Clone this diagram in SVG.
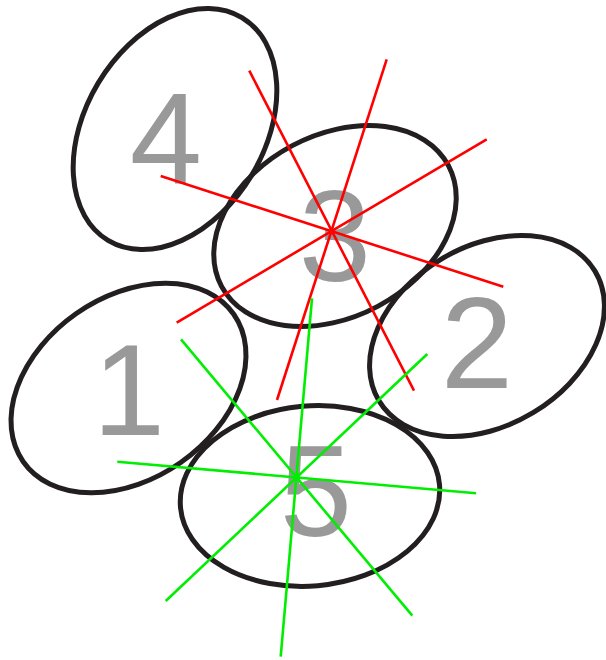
<svg xmlns="http://www.w3.org/2000/svg" width="606" height="660" viewBox="0 0 606 660">
<style>
.el{fill:none;stroke:#231f20;stroke-width:5}
.num{font-family:"Liberation Sans",Arial,sans-serif;font-size:130px;fill:#999999;text-anchor:middle}
.red{stroke:#ff0000;stroke-width:2.6;fill:none}
.grn{stroke:#00ee00;stroke-width:2.6;fill:none}
</style>
<rect width="606" height="660" fill="#ffffff"/>
<g id="node4">
<ellipse class="el" cx="175" cy="129" rx="130" ry="89.5" transform="rotate(-59 175 129)"/>
<text class="num" x="166" y="183">4</text>
</g>
<g id="node3">
<ellipse class="el" cx="335" cy="226" rx="128.5" ry="91" transform="rotate(-28 335 226)"/>
<text class="num" x="335" y="281">3</text>
</g>
<g id="node1">
<ellipse class="el" cx="128.5" cy="388" rx="128.5" ry="91" transform="rotate(-35 128.5 388)"/>
<text class="num" x="129" y="435">1</text>
</g>
<g id="node2">
<ellipse class="el" cx="487" cy="336" rx="126" ry="89.5" transform="rotate(-31 487 336)"/>
<text class="num" x="477" y="388">2</text>
</g>
<g id="node5">
<ellipse class="el" cx="310" cy="496" rx="130" ry="90" transform="rotate(-5 310 496)"/>
<text class="num" x="316" y="536">5</text>
</g>
<g id="connectors">
<line class="red" x1="249.3" y1="70.7" x2="414" y2="390.7"/>
<line class="red" x1="386.7" y1="59.3" x2="277" y2="400"/>
<line class="red" x1="486.7" y1="139.3" x2="176.7" y2="322.7"/>
<line class="red" x1="160.7" y1="176" x2="503.3" y2="286.7"/>
<line class="grn" x1="312" y1="298.3" x2="280.7" y2="656.7"/>
<line class="grn" x1="181" y1="339.3" x2="412.3" y2="615.7"/>
<line class="grn" x1="427.3" y1="354" x2="165.7" y2="601"/>
<line class="grn" x1="117.3" y1="461.7" x2="476" y2="493.3"/>
</g>
</svg>
